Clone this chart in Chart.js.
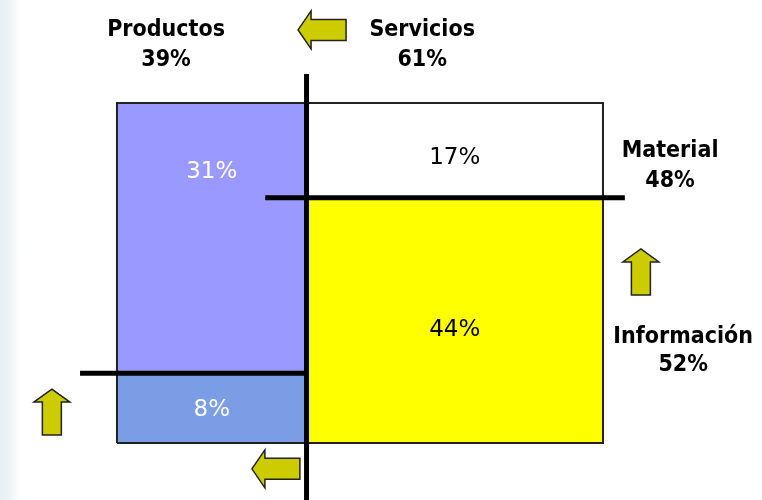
<!DOCTYPE html>
<html>
<head>
<meta charset="utf-8">
<script src="https://cdn.jsdelivr.net/npm/chart.js@4.4.0/dist/chart.umd.min.js"></script>
<style>
    html, body { margin: 0; padding: 0; background: #fff; }
    body { background: linear-gradient(to right, #e6eff4 0px, #eef4f7 10px, #fff 20px); }
    #wrap { width: 762px; height: 500px; position: relative; }
</style>
</head>
<body>
<div id="wrap"><canvas id="chart"></canvas></div>
<script>
// Columns (share of total) and the split inside each column
const groups = ['Productos', 'Servicios'];
const groupShares = [39, 61];
const segments = ['Información', 'Material'];      // bottom, top
const segmentTotals = [52, 48];
const productosValues = [8, 31];                   // Información, Material
const serviciosValues = [44, 17];
const cellValues = [productosValues, serviciosValues];

const cellColors = [['#7b9de5', '#9999ff'], ['#ffff00', '#ffffff']];
const cellTextColors = [['#ffffff', '#ffffff'], ['#000000', '#000000']];
// vertical placement of cell labels (in y units, 0-100 box)
const cellLabelY = [[9.7, 79.7], [33.2, 83.8]];

const X_RANGE = [-24.07, 132.72];
const Y_RANGE = [-16.76, 130.29];

// build rectangles from the data
const rects = [];
let x0 = 0;
groups.forEach((g, gi) => {
    const x1 = x0 + groupShares[gi];
    const total = cellValues[gi].reduce((a, b) => a + b, 0);
    let y0 = 0;
    cellValues[gi].forEach((v, si) => {
        const y1 = y0 + v / total * 100;
        rects.push({ gi, si, x0, x1, y0, y1, value: v });
        y0 = y1;
    });
    x0 = x1;
});

const splitX = groupShares[0];
const splitLeftY = productosValues[0] / groupShares[0] * 100;
const splitRightY = serviciosValues[0] / groupShares[1] * 100;

const datasets = rects.map(r => ({
    data: [
        { x: r.x0, y: r.y0 }, { x: r.x1, y: r.y0 }, { x: r.x1, y: r.y1 },
        { x: r.x0, y: r.y1 }, { x: r.x0, y: r.y0 }
    ],
    showLine: true, fill: 'shape', pointRadius: 0,
    backgroundColor: cellColors[r.gi][r.si],
    borderColor: '#222', borderWidth: 2,
    order: 2
}));

// thick divider lines
const thick = (pts) => ({ data: pts, showLine: true, fill: false, pointRadius: 0, borderColor: '#000', borderWidth: 5, borderCapStyle: 'butt', order: 1 });
datasets.push(thick([{ x: splitX, y: -17 }, { x: splitX, y: 108.5 }]));
datasets.push(thick([{ x: 30.5, y: splitRightY }, { x: 104.5, y: splitRightY }]));
datasets.push(thick([{ x: -7.6, y: splitLeftY }, { x: splitX, y: splitLeftY }]));

// outer labels: [text lines, x, y per line]
const outerLabels = [
    { lines: [groups[0], groupShares[0] + '%'], x: 10.1, y: [119.7, 110.9] },
    { lines: [groups[1], groupShares[1] + '%'], x: 62.8, y: [119.7, 110.9] },
    { lines: [segments[1], segmentTotals[1] + '%'], x: 113.8, y: [84.1, 75.3] },
    { lines: [segments[0], segmentTotals[0] + '%'], x: 116.5, y: [29.4, 21.2] }
];

// arrows: centre and direction
const arrows = [
    { x: 42.2, y: 121.5, dir: 'left' },
    { x: 32.7, y: -7.6, dir: 'left' },
    { x: -13.4, y: 9.1, dir: 'up' },
    { x: 107.8, y: 50.3, dir: 'up' }
];

function drawArrow(ctx, cx, cy, dir) {
    // horizontal arrow 48x38, vertical arrow 36x46
    let pts;
    if (dir === 'left') {
        const L = 24, H = 19, sh = 10.5, head = 13;
        pts = [[-L, 0], [-L + head, -H], [-L + head, -sh], [L, -sh], [L, sh], [-L + head, sh], [-L + head, H]];
    } else {
        const L = 23, W = 18, sw = 9.5, head = 13;
        pts = [[0, -L], [W, -L + head], [sw, -L + head], [sw, L], [-sw, L], [-sw, -L + head], [-W, -L + head]];
    }
    ctx.beginPath();
    pts.forEach((p, i) => i ? ctx.lineTo(cx + p[0], cy + p[1]) : ctx.moveTo(cx + p[0], cy + p[1]));
    ctx.closePath();
    ctx.fillStyle = '#cccc00';
    ctx.fill();
    ctx.lineWidth = 1.5;
    ctx.strokeStyle = '#222';
    ctx.stroke();
}

const labelsPlugin = {
    id: 'mosaicLabels',
    afterDatasetsDraw(chart) {
        const ctx = chart.ctx;
        const xs = chart.scales.x, ys = chart.scales.y;
        ctx.save();
        ctx.textAlign = 'center';

        // cell values
        ctx.textBaseline = 'middle';
        ctx.font = '23px "DejaVu Sans"';
        rects.forEach(r => {
            ctx.fillStyle = cellTextColors[r.gi][r.si];
            const px = xs.getPixelForValue((r.x0 + r.x1) / 2);
            const py = ys.getPixelForValue(cellLabelY[r.gi][r.si]);
            ctx.fillText(r.value + '%', px, py);
        });

        // outer labels
        ctx.textBaseline = 'alphabetic';
        ctx.fillStyle = '#000';
        ctx.font = 'bold 23px "DejaVu Sans Condensed", "DejaVu Sans"';
        outerLabels.forEach(l => {
            l.lines.forEach((t, i) => {
                ctx.fillText(t, xs.getPixelForValue(l.x), ys.getPixelForValue(l.y[i]));
            });
        });

        arrows.forEach(a => drawArrow(ctx, xs.getPixelForValue(a.x), ys.getPixelForValue(a.y), a.dir));
        ctx.restore();
    }
};

new Chart(document.getElementById('chart'), {
    type: 'scatter',
    data: { datasets },
    options: {
        responsive: true, maintainAspectRatio: false, animation: false,
        layout: { padding: 0 },
        plugins: { legend: { display: false }, tooltip: { enabled: false } },
        scales: {
            x: { type: 'linear', display: false, min: X_RANGE[0], max: X_RANGE[1] },
            y: { type: 'linear', display: false, min: Y_RANGE[0], max: Y_RANGE[1] }
        }
    },
    plugins: [labelsPlugin]
});
</script>
</body>
</html>
